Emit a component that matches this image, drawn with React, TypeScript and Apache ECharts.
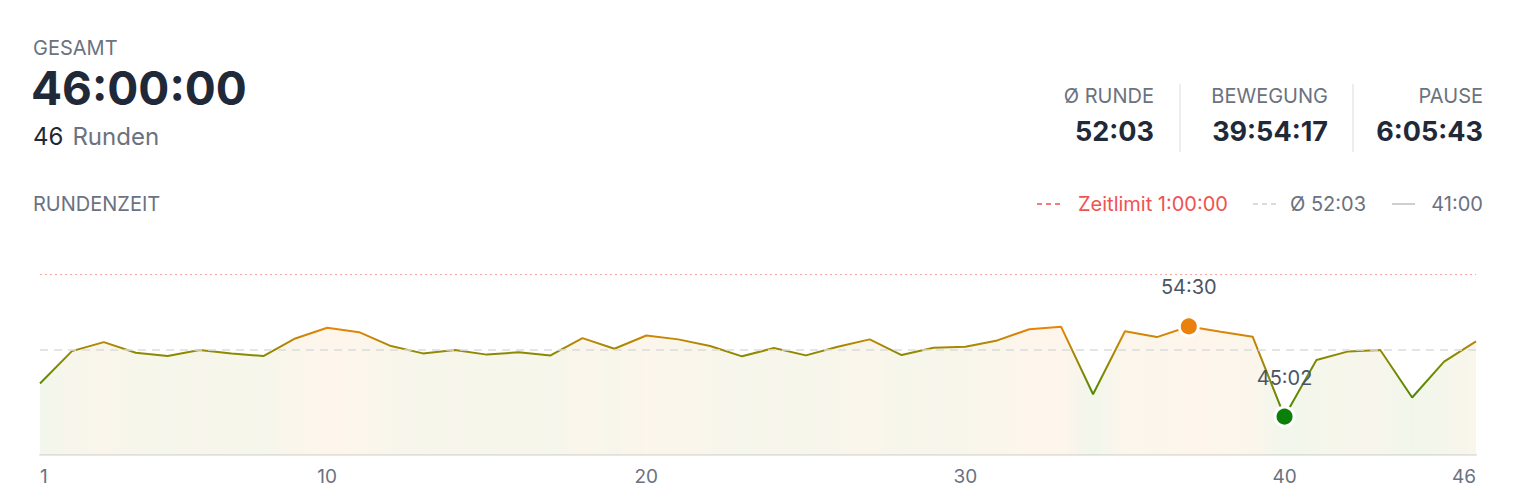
import React, { useEffect, useRef } from "react";
import * as echarts from "echarts";

const laps: number[] = Array.from({ length: 46 }, (_, i) => i + 1);
const lapMinutes: number[] = [
  48.5, 51.91, 52.85, 51.74, 51.39, 52.02, 51.67, 51.39, 53.24, 54.36,
  53.9, 52.44, 51.67, 52.02, 51.54, 51.78, 51.46, 53.27, 52.16, 53.55,
  53.14, 52.44, 51.36, 52.23, 51.46, 52.37, 53.14, 51.49, 52.27, 52.37,
  53.03, 54.21, 54.46, 47.38, 54.0, 53.38, 54.5, 53.94, 53.42, 45.0333,
  50.97, 51.88, 52.02, 47.04, 50.8, 52.93,
];
const xTickLabels: number[] = [1, 10, 20, 30, 40, 46];
const limitMinutes = 60;
const avgMinutes = 52.05;
const floorMinutes = 41;
const maxLap = 37;
const minLap = 40;

const headerLabel = "GESAMT";
const headerTotal = "46:00:00";
const headerLaps = "46";
const stats: { label: string; value: string }[] = [
  { label: "Ø RUNDE", value: "52:03" },
  { label: "BEWEGUNG", value: "39:54:17" },
  { label: "PAUSE", value: "6:05:43" },
];
const legendLimit = "Zeitlimit 1:00:00";
const legendAvg = "Ø 52:03";
const legendFloor = "41:00";

const FONT = "Inter, 'Noto Sans', sans-serif";
const GRAY = "#6b7280";
const DARK = "#1f2937";

const colorStops: { v: number; c: number[] }[] = [
  { v: 47, c: [76, 138, 0] },
  { v: 51.6, c: [138, 138, 0] },
  { v: 54.3, c: [234, 132, 8] },
];

function colorFor(v: number, alpha = 1): string {
  let c: number[];
  if (v <= colorStops[0].v) c = colorStops[0].c;
  else if (v >= colorStops[colorStops.length - 1].v) c = colorStops[colorStops.length - 1].c;
  else {
    let i = 0;
    while (v > colorStops[i + 1].v) i++;
    const a = colorStops[i], b = colorStops[i + 1];
    const t = (v - a.v) / (b.v - a.v);
    c = a.c.map((x, k) => Math.round(x + (b.c[k] - x) * t));
  }
  return `rgba(${c[0]},${c[1]},${c[2]},${alpha})`;
}

function fmt(v: number): string {
  const total = Math.round(v * 60);
  const m = Math.floor(total / 60);
  const s = total % 60;
  return `${m}:${String(s).padStart(2, "0")}`;
}

export default function App() {
  const ref = useRef<HTMLDivElement>(null);
  useEffect(() => {
    document.body.style.margin = "0";
    const chart = echarts.init(ref.current!, undefined, { renderer: "svg" });
    const n = lapMinutes.length;
    const lineGrad = new echarts.graphic.LinearGradient(
      0, 0, 1, 0,
      lapMinutes.map((v, i) => ({ offset: i / (n - 1), color: colorFor(v) }))
    );
    const areaGrad = new echarts.graphic.LinearGradient(
      0, 0, 1, 0,
      lapMinutes.map((v, i) => ({ offset: i / (n - 1), color: colorFor(v, 0.11) }))
    );

    const rightEdges = [1154, 1328, 1483];
    const statGraphics: any[] = [];
    stats.forEach((s, i) => {
      statGraphics.push({
        type: "text", x: rightEdges[i], y: 96,
        style: { text: s.label, fill: GRAY, font: `400 20px ${FONT}`, align: "right", verticalAlign: "middle" },
      });
      statGraphics.push({
        type: "text", x: rightEdges[i], y: 131,
        style: { text: s.value, fill: DARK, font: `700 27px ${FONT}`, align: "right", verticalAlign: "middle" },
      });
    });
    [1180, 1353].forEach((x) =>
      statGraphics.push({
        type: "line", shape: { x1: x, y1: 84, x2: x, y2: 152 },
        style: { stroke: "#e5e7eb", lineWidth: 1.5 },
      })
    );

    const option: any = {
      animation: false,
      grid: { left: 40, right: 42, top: 255, bottom: 49, outerBoundsMode: "none" },
      xAxis: {
        type: "value", min: 1, max: 46,
        axisLine: { show: true, lineStyle: { color: "#e5e7eb", width: 2 } },
        axisTick: { show: false },
        splitLine: { show: false },
        axisLabel: {
          customValues: xTickLabels, color: GRAY, fontSize: 19, fontFamily: FONT,
          margin: 12, alignMinLabel: "left", alignMaxLabel: "right",
        },
      },
      yAxis: {
        type: "value", min: floorMinutes, max: 62, show: false,
        splitLine: { show: false },
      },
      series: [
        {
          type: "line",
          data: laps.map((x, i) => [x, lapMinutes[i]]),
          showSymbol: false,
          lineStyle: { color: lineGrad, width: 2 },
          areaStyle: { color: areaGrad, origin: "start" },
          z: 3,
          markLine: {
            silent: true, symbol: "none", label: { show: false },
            data: [
              { yAxis: limitMinutes, lineStyle: { color: "#fca5a5", type: [2, 3], width: 1 } },
              { yAxis: avgMinutes, lineStyle: { color: "#dcdcdc", type: [8, 6], width: 1.5 } },
            ],
          },
        },
        {
          type: "scatter",
          z: 5,
          symbolSize: 19,
          data: [maxLap, minLap].map((lap) => ({
            value: [lap, lapMinutes[lap - 1]],
            itemStyle: {
              color: lap === maxLap ? "#e8820c" : "#0a7f0a",
              borderColor: "#ffffff", borderWidth: 3, opacity: 1,
            },
          })),
          label: {
            show: true, position: "top", distance: 18,
            formatter: (p: any) => fmt(p.value[1]),
            color: "#4b5563", fontSize: 20, fontFamily: FONT, opacity: 1,
          },
        },
      ],
      graphic: [
        {
          type: "text", x: 33, y: 48,
          style: { text: headerLabel, fill: GRAY, font: `400 20px ${FONT}`, verticalAlign: "middle" },
        },
        {
          type: "text", x: 31, y: 88,
          style: { text: headerTotal, fill: DARK, font: `700 46px ${FONT}`, verticalAlign: "middle" },
        },
        {
          type: "text", x: 33, y: 136,
          style: {
            text: `{a|${headerLaps}}{b|Runden}`, verticalAlign: "middle",
            rich: {
              a: { fill: DARK, fontSize: 24, fontFamily: FONT, padding: [0, 9, 0, 0] },
              b: { fill: GRAY, fontSize: 24, fontFamily: FONT },
            },
          },
        },
        ...statGraphics,
        {
          type: "text", x: 33, y: 204,
          style: { text: "RUNDENZEIT", fill: GRAY, font: `400 20px ${FONT}`, verticalAlign: "middle" },
        },
        {
          type: "line", shape: { x1: 1037, y1: 204, x2: 1061, y2: 204 },
          style: { stroke: "#f05252", lineWidth: 1.5, lineDash: [5, 4] },
        },
        {
          type: "text", x: 1228, y: 204,
          style: { text: legendLimit, fill: "#f05252", font: `400 20px ${FONT}`, align: "right", verticalAlign: "middle" },
        },
        {
          type: "line", shape: { x1: 1253, y1: 204, x2: 1277, y2: 204 },
          style: { stroke: "#cfcfcf", lineWidth: 1.5, lineDash: [5, 4] },
        },
        {
          type: "text", x: 1366, y: 204,
          style: { text: legendAvg, fill: GRAY, font: `400 20px ${FONT}`, align: "right", verticalAlign: "middle" },
        },
        {
          type: "line", shape: { x1: 1392, y1: 204, x2: 1415, y2: 204 },
          style: { stroke: "#cfcfcf", lineWidth: 2 },
        },
        {
          type: "text", x: 1483, y: 204,
          style: { text: legendFloor, fill: GRAY, font: `400 20px ${FONT}`, align: "right", verticalAlign: "middle" },
        },
      ],
    };
    chart.setOption(option);
    return () => chart.dispose();
  }, []);
  return (
    <div
      ref={ref}
      style={{ position: "absolute", left: 0, top: 0, width: 1518, height: 504, background: "#ffffff" }}
    />
  );
}
